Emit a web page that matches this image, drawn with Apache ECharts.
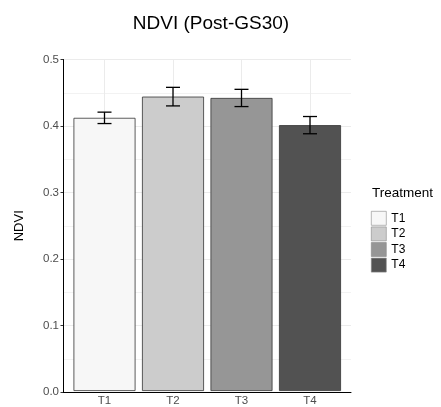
<!DOCTYPE html>
<html>
<head>
<meta charset="utf-8">
<script src="https://cdn.jsdelivr.net/npm/echarts@6/dist/echarts.min.js"></script>
<style>
  html, body { margin: 0; padding: 0; background: #fff; }
  #chart { width: 441px; height: 407px; }
</style>
</head>
<body>
<div id="chart"></div>
<script>
// Treatment means of NDVI after GS30, with standard-error half widths
const treatments = ['T1', 'T2', 'T3', 'T4'];
const ndviMean = [0.412, 0.444, 0.442, 0.401];
const ndviErr = [0.0086, 0.014, 0.013, 0.013];
const fillColors = ['#f7f7f7', '#cccccc', '#969696', '#525252'];
const yTicks = [0, 0.1, 0.2, 0.3, 0.4, 0.5];

const FONT = '"Liberation Sans", Arial, sans-serif';
const chart = echarts.init(document.getElementById('chart'), null, { renderer: 'canvas' });

// one bar series per treatment so each gets its own legend key
const barSeries = treatments.map((t, i) => ({
  name: t,
  type: 'bar',
  xAxisIndex: 1,
  yAxisIndex: 1,
  barWidth: 62,
  barGap: '-100%',
  data: treatments.map((_, j) => (j === i ? ndviMean[j] : '-')),
  itemStyle: { color: fillColors[i], borderColor: '#333', borderWidth: 0.8 },
  emphasis: { disabled: true },
  silent: true,
  z: 3
}));

const errorSeries = {
  type: 'custom',
  xAxisIndex: 1,
  yAxisIndex: 1,
  z: 5,
  silent: true,
  data: treatments.map((_, i) => [i, ndviMean[i] - ndviErr[i], ndviMean[i] + ndviErr[i]]),
  renderItem: function (params, api) {
    const lo = api.coord([api.value(0), api.value(1)]);
    const hi = api.coord([api.value(0), api.value(2)]);
    const hw = 7;
    const style = { stroke: '#000', lineWidth: 1.3, fill: null };
    return {
      type: 'group',
      children: [
        { type: 'line', shape: { x1: hi[0], y1: hi[1], x2: lo[0], y2: lo[1] }, style },
        { type: 'line', shape: { x1: hi[0] - hw, y1: hi[1], x2: hi[0] + hw, y2: hi[1] }, style },
        { type: 'line', shape: { x1: lo[0] - hw, y1: lo[1], x2: lo[0] + hw, y2: lo[1] }, style }
      ]
    };
  }
};

chart.setOption({
  animation: false,
  backgroundColor: '#fff',
  textStyle: { fontFamily: FONT },
  title: [
    {
      text: 'NDVI (Post-GS30)',
      left: 206, top: 9, textAlign: 'center',
      textStyle: { fontFamily: FONT, fontSize: 19, fontWeight: 'normal', color: '#000' }
    },
    {
      text: 'Treatment',
      left: 367, top: 181,
      textStyle: { fontFamily: FONT, fontSize: 13.5, fontWeight: 'normal', color: '#000' }
    }
  ],
  legend: {
    orient: 'vertical',
    left: 366, top: 206,
    icon: 'rect',
    itemWidth: 15, itemHeight: 14, itemGap: 1,
    selectedMode: false,
    data: treatments,
    itemStyle: { borderColor: '#888', borderWidth: 0.6 },
    textStyle: { fontFamily: FONT, fontSize: 12, color: '#000', padding: [0, 0, 0, 0] }
  },
  grid: [
    { left: 63, right: 90, top: 59.5, bottom: 15 },
    { left: 104.5, right: 131, top: 59.5, bottom: 15 }
  ],
  xAxis: [
    {
      gridIndex: 0, type: 'value', min: 0, max: 1,
      axisLine: { show: true, lineStyle: { color: '#000', width: 1 } },
      axisTick: { show: false }, axisLabel: { show: false }, splitLine: { show: false }
    },
    {
      gridIndex: 1, type: 'category', boundaryGap: false, data: treatments,
      axisLine: { show: false }, axisTick: { show: false },
      axisLabel: { color: '#4d4d4d', fontSize: 11.5, margin: 4, fontFamily: FONT },
      splitLine: { show: true, lineStyle: { color: '#ebebeb', width: 1 } }
    }
  ],
  yAxis: [
    {
      gridIndex: 0, type: 'value', min: yTicks[0], max: yTicks[yTicks.length - 1], interval: 0.1,
      name: 'NDVI', nameLocation: 'middle', nameGap: 37, nameRotate: 90,
      nameTextStyle: { fontFamily: FONT, fontSize: 13, color: '#000' },
      axisLine: { show: true, lineStyle: { color: '#000', width: 1 } },
      axisTick: { show: true, length: 2.5, lineStyle: { color: '#333' } },
      axisLabel: { color: '#4d4d4d', fontSize: 11.5, margin: 4, fontFamily: FONT,
        formatter: v => v.toFixed(1) },
      splitLine: { show: true, lineStyle: { color: '#ebebeb', width: 1 } },
      minorTick: { show: false, splitNumber: 2 },
      minorSplitLine: { show: true, lineStyle: { color: '#f2f2f2', width: 1 } }
    },
    {
      gridIndex: 1, type: 'value', min: yTicks[0], max: yTicks[yTicks.length - 1], show: false
    }
  ],
  series: [...barSeries, errorSeries]
});
</script>
</body>
</html>
